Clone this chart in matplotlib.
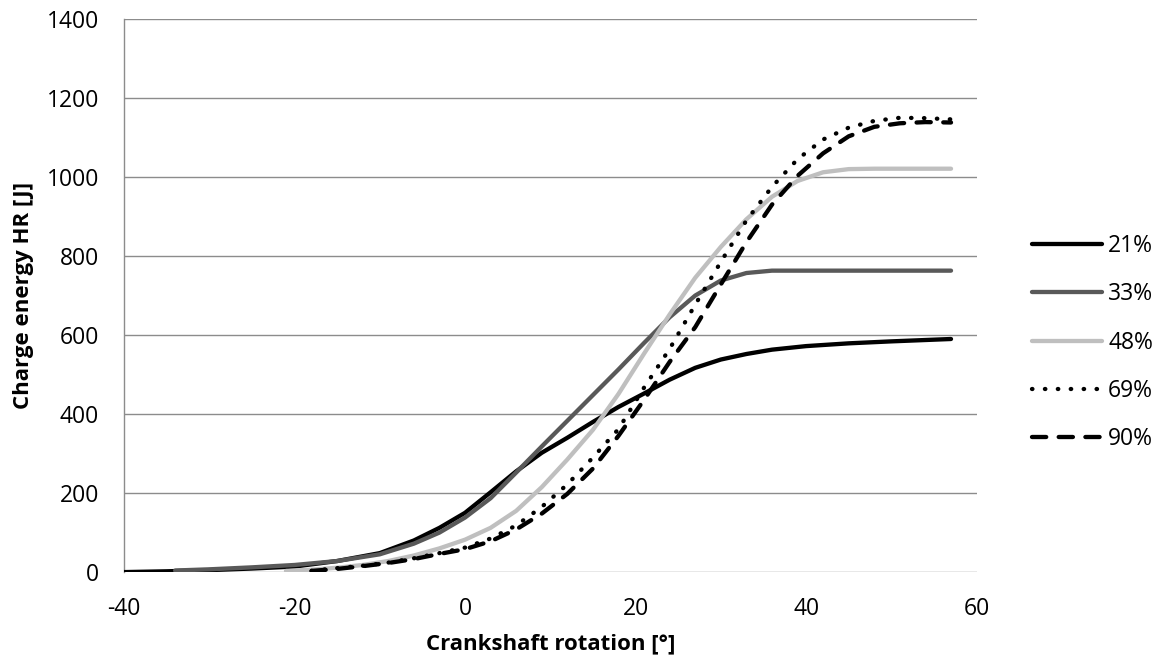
import matplotlib
matplotlib.use("Agg")
import matplotlib.pyplot as plt

plt.rcParams['font.family'] = ['Open Sans', 'DejaVu Sans']
plt.rcParams['axes.unicode_minus'] = False

# crank angle [deg] and heat release [J] for each oxygen share
x21 = [-40, -35, -30, -25, -20, -15, -10, -6, -3, 0, 3, 6, 9, 12, 15, 18, 21, 24, 27, 30, 33, 36, 40, 45, 50, 57]
y21 = [0, 2, 5, 9, 14, 28, 48, 80, 112, 150, 202, 255, 302, 340, 380, 418, 452, 487, 517, 538, 552, 563, 572, 579, 584, 590]

x33 = [-34, -30, -25, -20, -15, -10, -6, -3, 0, 3, 6, 9, 12, 15, 18, 21, 24, 27, 30, 33, 36, 40, 45, 50, 57]
y33 = [4, 7, 12, 18, 28, 45, 72, 100, 138, 187, 252, 318, 383, 448, 513, 580, 645, 700, 738, 757, 763, 763, 763, 763, 763]

x48 = [-21, -18, -15, -12, -9, -6, -3, 0, 3, 6, 9, 12, 15, 18, 21, 24, 27, 30, 33, 36, 39, 42, 45, 48, 57]
y48 = [3, 6, 11, 18, 28, 42, 60, 82, 112, 155, 215, 285, 360, 451, 553, 652, 745, 823, 893, 950, 990, 1012, 1020, 1021, 1021]

x69 = [-18, -15, -12, -9, -6, -3, 0, 3, 6, 9, 12, 15, 18, 21, 24, 27, 30, 33, 36, 39, 42, 45, 48, 51, 54, 57]
y69 = [3, 10, 16, 24, 35, 48, 62, 85, 118, 165, 222, 290, 362, 467, 565, 677, 785, 890, 975, 1045, 1095, 1125, 1142, 1150, 1149, 1146]

x90 = [-18, -15, -12, -9, -6, -3, 0, 3, 6, 9, 12, 15, 18, 21, 24, 27, 30, 33, 36, 39, 42, 45, 48, 51, 54, 57]
y90 = [3, 8, 15, 23, 33, 46, 58, 78, 108, 148, 198, 262, 345, 436, 532, 620, 728, 835, 930, 1003, 1060, 1103, 1127, 1136, 1139, 1138]

labels = ['21%', '33%', '48%', '69%', '90%']

fig = plt.figure(figsize=(11.64, 6.66), dpi=100)
ax = fig.add_axes([0.1065, 0.141, 0.7325, 0.8305])

lw = 3.1
ax.plot(x21, y21, color='black', lw=lw, solid_capstyle='round', label=labels[0], zorder=3)
ax.plot(x33, y33, color='#595959', lw=lw, solid_capstyle='round', label=labels[1], zorder=3)
ax.plot(x48, y48, color='#bfbfbf', lw=lw, solid_capstyle='round', label=labels[2], zorder=3)
ax.plot(x69, y69, color='black', lw=lw, linestyle=(0, (0.1, 2.9)), dash_capstyle='round', label=labels[3], zorder=3)
ax.plot(x90, y90, color='black', lw=lw, linestyle=(0, (3.3, 2.9)), dash_capstyle='round', label=labels[4], zorder=3)

ax.set_xlim(-40, 60)
ax.set_ylim(0, 1400)
ax.set_xticks(range(-40, 61, 20))
ax.set_yticks(range(0, 1401, 200))
ax.grid(axis='y', color='#8c8c8c', lw=1.0)
ax.set_axisbelow(True)
for s in ['top', 'right', 'bottom']:
    ax.spines[s].set_visible(False)
ax.spines['left'].set_color('#8c8c8c')
ax.spines['left'].set_linewidth(1.0)
ax.tick_params(length=0, labelsize=16.5, pad=18)

ax.set_xlabel('Crankshaft rotation [°]', fontsize=16, fontweight='bold', labelpad=9)
ax.set_ylabel('Charge energy HR [J]', fontsize=16, fontweight='bold', labelpad=9)

fig.legend(loc='center left', bbox_to_anchor=(0.877, 0.4857), frameon=False, borderpad=0,
           fontsize=16.5, handlelength=3.05, handletextpad=0.26, labelspacing=1.05)

fig.savefig('out.png', dpi=100)
